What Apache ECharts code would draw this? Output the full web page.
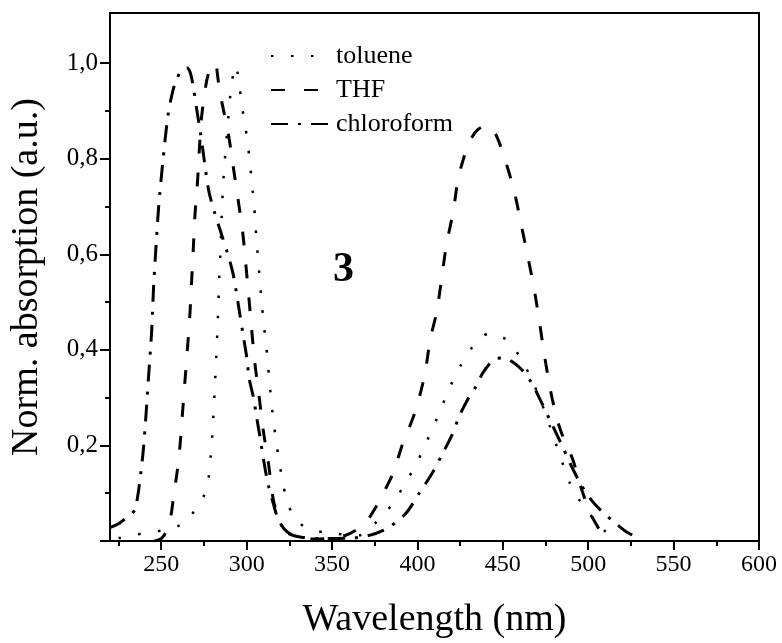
<!DOCTYPE html>
<html><head><meta charset="utf-8">
<script src="https://cdn.jsdelivr.net/npm/echarts@6/dist/echarts.min.js"></script>
<style>html,body{margin:0;padding:0;background:#fff}#c{width:782px;height:643px}</style>
</head><body><div id="c"></div>
<script>
const seriesNames = ['toluene', 'THF', 'chloroform'];
const toluene = [[225,0.006],[232,0.011],[243,0.018],[254,0.024],[261,0.033],[266,0.047],[271.5,0.075],[275,0.095],[277,0.115],[278,0.14],[279,0.18],[280,0.225],[281.5,0.33],[283,0.45],[284,0.555],[284.6,0.6],[285.4,0.68],[286.3,0.75],[287.3,0.8],[289.3,0.887],[291,0.95],[293.5,0.995],[295.6,0.96],[297,0.915],[299,0.874],[300.6,0.832],[302,0.79],[303,0.749],[304.3,0.707],[305.1,0.666],[305.9,0.624],[306.9,0.584],[307.8,0.542],[308.8,0.502],[309.8,0.46],[311.2,0.418],[312.3,0.378],[313.3,0.336],[314.4,0.295],[315.6,0.254],[317.2,0.212],[318.9,0.171],[320.9,0.129],[323.4,0.087],[328.3,0.046],[334,0.03],[340,0.022],[346,0.018],[352,0.016],[360,0.012],[366,0.012],[370,0.02],[375,0.036],[385.5,0.078],[392.7,0.12],[399.2,0.16],[404.4,0.2],[409.7,0.242],[414.5,0.283],[419.4,0.325],[425.3,0.367],[432,0.405],[438,0.428],[443,0.435],[448,0.43],[454,0.416],[460,0.385],[466,0.345],[472,0.295],[478,0.235],[484.5,0.168],[489,0.123],[495,0.085],[500,0.06],[505,0.04],[510,0.02],[514,0.008]];
const thf = [[246,0.0],[250,0.005],[253,0.02],[255.5,0.05],[257.5,0.1],[259.5,0.15],[261,0.2],[262.5,0.27],[264,0.34],[265.5,0.41],[266.8,0.476],[267.8,0.545],[268.8,0.614],[269.8,0.685],[271.2,0.75],[272.5,0.83],[273.7,0.89],[276.6,0.963],[279,0.99],[281.5,1.0],[283.5,0.96],[285.4,0.92],[289.3,0.852],[292.2,0.782],[295.1,0.712],[297.7,0.646],[299.6,0.576],[301.3,0.51],[303,0.44],[304.9,0.37],[307.4,0.3],[309.8,0.23],[312.7,0.165],[315.6,0.087],[318.5,0.05],[322,0.025],[327,0.012],[333,0.006],[340,0.004],[350,0.006],[358,0.012],[365,0.025],[370,0.04],[375.5,0.07],[380,0.1],[385.5,0.14],[391.5,0.205],[395.5,0.24],[399.5,0.28],[404.4,0.35],[407.4,0.42],[411.3,0.48],[414.2,0.55],[417,0.62],[421,0.69],[424,0.76],[429.8,0.83],[435,0.86],[441,0.87],[446,0.85],[452,0.79],[457,0.727],[461,0.658],[465,0.589],[468.8,0.518],[471.8,0.45],[474.5,0.386],[477.6,0.321],[481.5,0.258],[484.5,0.225],[491,0.17],[496,0.11],[501,0.06],[505.5,0.03],[510,0.005]];
const chloroform = [[220,0.028],[225,0.036],[229,0.047],[232,0.055],[234.5,0.065],[236.5,0.1],[238.2,0.147],[239.5,0.19],[241,0.26],[242.5,0.34],[244.4,0.44],[245.5,0.53],[247,0.62],[248.5,0.7],[251,0.796],[253.8,0.887],[256,0.93],[258.6,0.963],[262,0.985],[265,0.99],[267,0.98],[268.8,0.949],[270.7,0.905],[272.7,0.86],[274.5,0.815],[276,0.775],[278,0.73],[281,0.69],[285,0.645],[289,0.6],[292,0.56],[294,0.52],[296,0.475],[298,0.43],[300,0.386],[301.5,0.34],[304,0.3],[306,0.256],[308,0.214],[310,0.168],[312.5,0.12],[315.5,0.08],[318,0.05],[321,0.03],[325,0.015],[332,0.008],[345,0.005],[360,0.006],[370,0.01],[382,0.026],[393,0.057],[401,0.1],[409,0.144],[415,0.185],[420,0.22],[425,0.265],[430,0.3],[434,0.322],[438,0.35],[442,0.37],[446,0.382],[451,0.383],[456,0.374],[462,0.355],[467,0.33],[472,0.295],[478,0.25],[484,0.205],[490,0.158],[496,0.117],[502,0.085],[508,0.062],[515,0.04],[522,0.02],[531,0.003]];
const xMajorTicks = [250, 300, 350, 400, 450, 500, 550, 600];
const xMinorTicks = [225, 275, 325, 375, 425, 475, 525, 575];
const yMajorTicks = [0.2, 0.4, 0.6, 0.8, 1.0];
const yMinorTicks = [0.1, 0.3, 0.5, 0.7, 0.9];
const xTitle = 'Wavelength (nm)';
const yTitle = 'Norm. absorption (a.u.)';
const sampleLabel = '3';

const FONT = 'Liberation Serif';
const chart = echarts.init(document.getElementById('c'), null, {renderer: 'canvas'});
const axisLine = {show: true, lineStyle: {color: '#000', width: 2}};
const option = {
  animation: false,
  backgroundColor: '#fff',
  grid: {left: 110, right: 23, top: 13, bottom: 102, show: true, borderColor: '#000', borderWidth: 2,
         containLabel: false, outerBoundsMode: 'none'},
  legend: {
    orient: 'vertical', left: 265, top: 38, itemWidth: 60, itemHeight: 12, itemGap: 8,
    data: seriesNames,
    itemStyle: {opacity: 0},
    textStyle: {fontFamily: FONT, fontSize: 26, color: '#000'}
  },
  xAxis: [
    {type: 'value', min: 220, max: 600, axisLine: axisLine,
     axisTick: {show: true, customValues: xMajorTicks, length: 9, lineStyle: {color: '#000', width: 2}},
     axisLabel: {customValues: xMajorTicks, fontFamily: FONT, fontSize: 24, color: '#000', margin: 12},
     splitLine: {show: false},
     name: xTitle, nameLocation: 'middle', nameGap: 60,
     nameTextStyle: {fontFamily: FONT, fontSize: 38, color: '#000'}},
    {type: 'value', min: 220, max: 600, position: 'bottom', axisLine: {show: false},
     axisTick: {show: true, customValues: xMinorTicks, length: 5, lineStyle: {color: '#000', width: 2}},
     axisLabel: {show: false}, splitLine: {show: false}}
  ],
  yAxis: [
    {type: 'value', min: 0, max: 1.105, axisLine: axisLine,
     axisTick: {show: true, customValues: [0].concat(yMajorTicks), length: 10, lineStyle: {color: '#000', width: 2}},
     axisLabel: {customValues: yMajorTicks, fontFamily: FONT, fontSize: 25, color: '#000', margin: 12,
                 formatter: v => v.toFixed(1).replace('.', ',')},
     splitLine: {show: false},
     name: yTitle, nameLocation: 'middle', nameGap: 64, nameRotate: 90,
     nameTextStyle: {fontFamily: FONT, fontSize: 38, color: '#000'}},
    {type: 'value', min: 0, max: 1.105, position: 'left', axisLine: {show: false},
     axisTick: {show: true, customValues: yMinorTicks, length: 5, lineStyle: {color: '#000', width: 2}},
     axisLabel: {show: false}, splitLine: {show: false}}
  ],
  graphic: [{type: 'text', left: 333, top: 249,
    style: {text: sampleLabel, fontFamily: FONT, fontSize: 42, fontWeight: 'bold', fill: '#000'}}],
  series: [
    {name: seriesNames[0], type: 'line', data: toluene, smooth: 0.3, symbol: 'none',
     lineStyle: {color: '#000', width: 2.5, type: [2.5, 17.5]}, itemStyle: {color: '#000'}},
    {name: seriesNames[1], type: 'line', data: thf, smooth: 0.3, symbol: 'none',
     lineStyle: {color: '#000', width: 3, type: [14, 19]}, itemStyle: {color: '#000'}},
    {name: seriesNames[2], type: 'line', data: chloroform, smooth: 0.3, symbol: 'none',
     lineStyle: {color: '#000', width: 3, type: [17, 10, 3, 10]}, itemStyle: {color: '#000'}}
  ]
};
chart.setOption(option);
</script></body></html>
